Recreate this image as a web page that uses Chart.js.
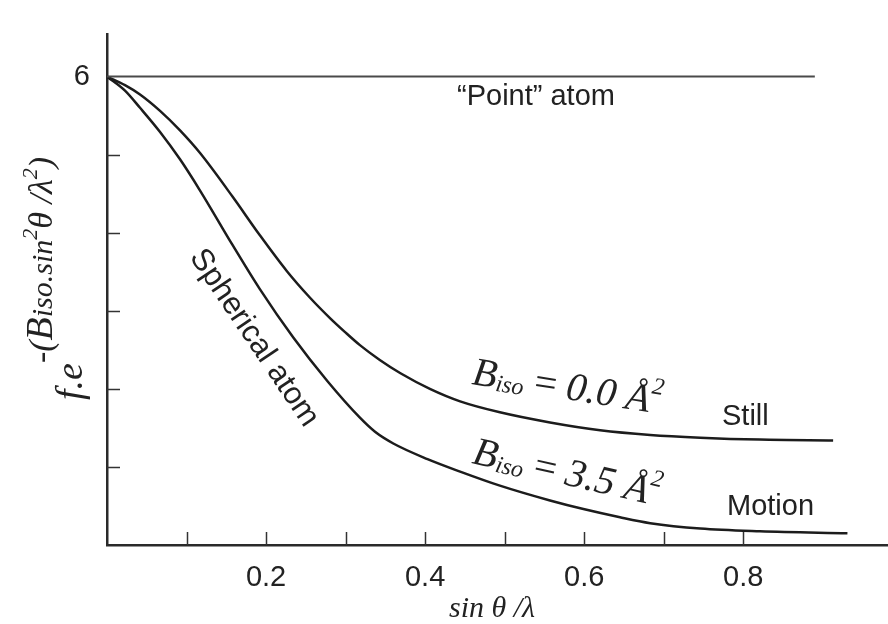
<!DOCTYPE html>
<html>
<head>
<meta charset="utf-8">
<script src="https://cdn.jsdelivr.net/npm/chart.js@4.4.0/dist/chart.umd.min.js"></script>
<style>
  html, body { margin: 0; padding: 0; background: #fff; }
</style>
</head>
<body>
<canvas id="grafica" width="888" height="624"></canvas>
<script>
// valores (sin θ / λ  frente a f·e^-(B sin²θ/λ²))
const stillX  = [0, 0.0226, 0.0415, 0.0667, 0.0918, 0.117, 0.158, 0.192, 0.226, 0.255, 0.281, 0.299,
                 0.318, 0.343, 0.369, 0.406, 0.444, 0.494, 0.557, 0.620, 0.683, 0.746, 0.821, 0.913];
const stillY  = [6, 5.89, 5.77, 5.56, 5.31, 5.02, 4.46, 3.97, 3.51, 3.17, 2.90, 2.73,
                 2.56, 2.37, 2.20, 2.00, 1.84, 1.70, 1.57, 1.47, 1.41, 1.375, 1.35, 1.34];
const motionX = [0, 0.0226, 0.0415, 0.0667, 0.0918, 0.117, 0.158, 0.192, 0.234, 0.277, 0.318, 0.337,
                 0.360, 0.403, 0.444, 0.494, 0.557, 0.599, 0.645, 0.683, 0.746, 0.821, 0.931];
const motionY = [6, 5.82, 5.60, 5.29, 4.94, 4.54, 3.84, 3.28, 2.66, 2.10, 1.63, 1.45,
                 1.30, 1.10, 0.94, 0.76, 0.57, 0.46, 0.355, 0.28, 0.21, 0.175, 0.15];
const pointX  = [0, 0.89];
const pointY  = [6, 6];

const xTickLabels = ['0.2', '0.4', '0.6', '0.8'];
const yTickLabels = ['6'];
const marcasX = [0.1, 0.2, 0.3, 0.4, 0.5, 0.6, 0.7, 0.8];
const marcasY = [1, 2, 3, 4, 5];

const SANS = '"Liberation Sans", Arial, sans-serif';
const SERIF = '"Liberation Serif", "Times New Roman", serif';

const aPuntos = (xs, ys) => xs.map((x, i) => ({x: x, y: ys[i]}));

function serie(xs, ys, color, ancho) {
  return {
    data: aPuntos(xs, ys),
    showLine: true,
    borderColor: color,
    borderWidth: ancho,
    pointRadius: 0,
    cubicInterpolationMode: 'monotone',
    fill: false
  };
}

// escribe varios trozos de texto seguidos (subíndices, superíndices)
function textoCompuesto(ctx, x, y, ang, trozos) {
  ctx.save();
  ctx.translate(x, y);
  ctx.rotate(ang * Math.PI / 180);
  ctx.textBaseline = 'alphabetic';
  ctx.textAlign = 'left';
  let cx = 0;
  trozos.forEach(([txt, fuente, dy]) => {
    ctx.font = fuente;
    ctx.fillText(txt, cx, dy || 0);
    cx += ctx.measureText(txt).width;
  });
  ctx.restore();
}

const anotaciones = {
  id: 'anotaciones',
  afterDraw(chart) {
    const {ctx, scales: {x, y}} = chart;
    ctx.save();
    ctx.strokeStyle = '#333';
    ctx.lineWidth = 1.5;
    marcasX.forEach(v => {
      const px = Math.round(x.getPixelForValue(v)) + 0.5;
      ctx.beginPath();
      ctx.moveTo(px, y.bottom);
      ctx.lineTo(px, y.bottom - 13);
      ctx.stroke();
    });
    marcasY.forEach(v => {
      const py = Math.round(y.getPixelForValue(v)) + 0.5;
      ctx.beginPath();
      ctx.moveTo(x.left, py);
      ctx.lineTo(x.left + 13, py);
      ctx.stroke();
    });

    ctx.fillStyle = '#222';
    ctx.textBaseline = 'alphabetic';
    ctx.font = '29px ' + SANS;
    ctx.fillText('\u201cPoint\u201d atom', 457, 105);
    ctx.fillText('Still', 722, 425);
    ctx.fillText('Motion', 727, 515);

    ctx.save();
    ctx.translate(254, 338);
    ctx.rotate(56 * Math.PI / 180);
    ctx.textAlign = 'center';
    ctx.textBaseline = 'middle';
    ctx.font = '31px ' + SANS;
    ctx.fillText('Spherical atom', 0, 0);
    ctx.restore();

    const big = 'italic 40px ' + SERIF;
    const sub = 'italic 24px ' + SERIF;
    const eq = '40px ' + SERIF;
    textoCompuesto(ctx, 471, 384, 9, [
      ['B', big], ['iso', sub, 3], [' = ', eq], ['0.0 \u00c5', big], ['2', sub, -19]
    ]);
    textoCompuesto(ctx, 471, 463, 13, [
      ['B', big], ['iso', sub, 3], [' = ', eq], ['3.5 \u00c5', big], ['2', sub, -19]
    ]);

    // título del eje x
    ctx.textAlign = 'center';
    ctx.font = 'italic 30px ' + SERIF;
    ctx.fillText('sin \u03b8 /\u03bb', 492, 617);
    ctx.textAlign = 'left';

    // título del eje y
    const sup = -30;
    textoCompuesto(ctx, 82, 400, -90, [
      ['f.e', 'italic 38px ' + SERIF],
      ['-(', 'italic 34px ' + SERIF, sup],
      ['B', 'italic 38px ' + SERIF, sup],
      ['iso.sin', 'italic 30px ' + SERIF, sup],
      ['2', 'italic 22px ' + SERIF, sup - 15],
      ['\u03b8 /\u03bb', 'italic 34px ' + SERIF, sup],
      ['2', 'italic 22px ' + SERIF, sup - 15],
      [')', 'italic 34px ' + SERIF, sup]
    ]);
    ctx.restore();
  }
};

new Chart(document.getElementById('grafica').getContext('2d'), {
  type: 'scatter',
  data: {
    datasets: [
      serie(pointX, pointY, '#4a4a4a', 2),
      serie(stillX, stillY, '#1c1c1c', 2.5),
      serie(motionX, motionY, '#1c1c1c', 2.5)
    ]
  },
  options: {
    responsive: false,
    animation: false,
    layout: { padding: { top: 13, right: 0, left: 0, bottom: 0 } },
    plugins: { legend: { display: false }, tooltip: { enabled: false } },
    scales: {
      x: {
        type: 'linear',
        min: 0,
        max: 0.982,
        grid: { display: false, drawTicks: false, tickLength: 0 },
        border: { display: true, color: '#2a2a2a', width: 2.5 },
        ticks: {
          stepSize: 0.1,
          includeBounds: false,
          autoSkip: false,
          maxRotation: 0,
          padding: 16,
          color: '#222',
          font: { family: SANS, size: 29 },
          callback: v => xTickLabels.includes(Number(v).toFixed(1)) ? Number(v).toFixed(1) : ''
        },
        afterFit: s => { s.height = 79; }
      },
      y: {
        type: 'linear',
        min: 0,
        max: 6.54,
        grid: { display: false, drawTicks: false, tickLength: 0 },
        border: { display: true, color: '#2a2a2a', width: 2.5 },
        ticks: {
          stepSize: 1,
          includeBounds: false,
          autoSkip: false,
          padding: 17,
          color: '#222',
          font: { family: SANS, size: 29 },
          callback: v => yTickLabels.includes(String(v)) ? String(v) : ''
        },
        afterFit: s => { s.width = 107; }
      }
    }
  },
  plugins: [anotaciones]
});
</script>
</body>
</html>
